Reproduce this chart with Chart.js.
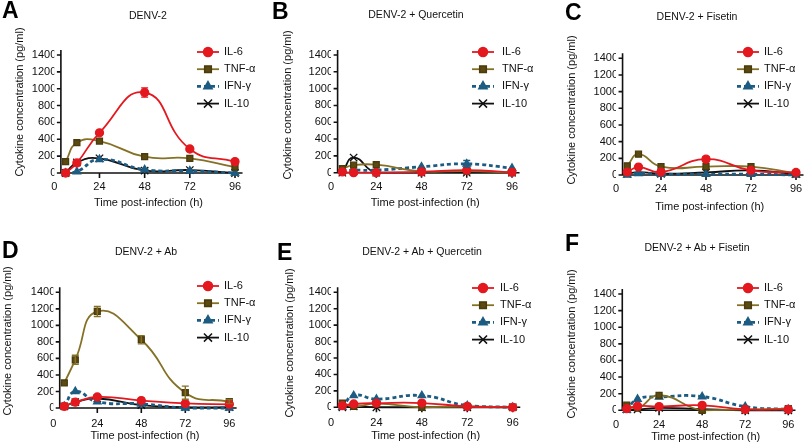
<!DOCTYPE html>
<html>
<head>
<meta charset="utf-8">
<script src="https://cdn.jsdelivr.net/npm/chart.js@4.4.0/dist/chart.umd.min.js"></script>
<style>
  body { margin: 0; background: #fff; font-family: "Liberation Sans", Arial, sans-serif; }
  #root { position: relative; width: 810px; height: 446px; overflow: hidden; }
  .panel { position: absolute; width: 270px; height: 223px; }
  .letter { position: absolute; font-weight: bold; font-size: 23px; line-height: 1; color: #000; }
  .title { position: absolute; font-size: 10.5px; white-space: nowrap; transform: translate(-50%, -50%); color: #111; }
</style>
</head>
<body>
<div id="root"></div>
<script>
const hours = [6, 12, 24, 48, 72, 96];
const xTicks = [0, 24, 48, 72, 96];
const yTicks = [0, 200, 400, 600, 800, 1000, 1200, 1400];
const seriesNames = ["IL-6", "TNF-α", "IFN-γ", "IL-10"];
const panelLetters = ["A", "B", "C", "D", "E", "F"];
const panelTitles = ["DENV-2", "DENV-2 + Quercetin", "DENV-2 + Fisetin",
  "DENV-2 + Ab", "DENV-2 + Ab + Quercetin", "DENV-2 + Ab + Fisetin"];
const yTitle = "Cytokine concentration (pg/ml)";
const xTitle = "Time post-infection (h)";

// A - DENV-2
const il6A = [0, 120, 477, 955, 285, 135];
const tnfA = [134, 359, 379, 193, 174, 70];
const ifnA = [0, 16, 162, 40, 25, 0];
const il10A = [0, 125, 174, 28, 35, 0];
const il6ErrA = [0, 0, 0, 55, 20, 15];
// B - DENV-2 + Quercetin
const il6B = [10, 0, 0, 10, 30, 5];
const tnfB = [50, 90, 95, 15, 20, 0];
const ifnB = [25, 30, 30, 70, 105, 55];
const il10B = [0, 180, 0, 0, 0, 0];
const ifnErrB = [0, 0, 0, 0, 40, 0];
// C - DENV-2 + Fisetin
const il6C = [35, 95, 35, 190, 55, 30];
const tnfC = [110, 250, 100, 100, 100, 20];
const ifnC = [0, 20, 10, 10, 10, 0];
const il10C = [15, 35, 15, 30, 55, 10];
const il6ErrC = [0, 0, 0, 30, 0, 0];
// D - DENV-2 + Ab
const il6D = [20, 70, 133, 90, 55, 45];
const tnfD = [303, 583, 1168, 826, 185, 78];
const ifnD = [20, 200, 75, 50, 0, 0];
const il10D = [20, 70, 115, 35, 10, 10];
const tnfErrD = [0, 55, 60, 50, 80, 25];
const il6ErrD = [0, 0, 25, 0, 0, 0];
// E - DENV-2 + Ab + Quercetin
const il6E = [20, 40, 50, 52, 10, 0];
const tnfE = [52, 10, 45, 0, 10, 0];
const ifnE = [0, 143, 100, 143, 20, 0];
const il10E = [0, 10, 0, 0, 0, 0];
// F - DENV-2 + Ab + Fisetin
const il6F = [20, 50, 45, 60, 10, 10];
const tnfF = [62, 25, 181, 0, 10, 20];
const ifnF = [0, 135, 160, 165, 45, 10];
const il10F = [10, 10, 30, 15, 0, 0];

const panelSeries = [
  [il6A, tnfA, ifnA, il10A],
  [il6B, tnfB, ifnB, il10B],
  [il6C, tnfC, ifnC, il10C],
  [il6D, tnfD, ifnD, il10D],
  [il6E, tnfE, ifnE, il10E],
  [il6F, tnfF, ifnF, il10F]
];
const panelErrors = [
  [il6ErrA, null, null, null],
  [null, null, ifnErrB, null],
  [il6ErrC, null, null, null],
  [il6ErrD, tnfErrD, null, null],
  [null, null, null, null],
  [null, null, null, null]
];

// layout of each panel (panel-relative pixels)
const frames = [
  { left: 0,   top: 0,   x0: 54.3, x96: 235,   y0: 173,   y1400: 55,   yt: [20, 102], xty: 203, xtk: 14,   letter: [2, -1],  title: [148, 15], legend: [197, 224, 52] },
  { left: 270, top: 0,   x0: 61,   x96: 242,   y0: 172.7, y1400: 55,   yt: [18, 105], xty: 203, xtk: 14,   letter: [2, 0],   title: [146, 14], legend: [202, 232, 52] },
  { left: 540, top: 0,   x0: 76,   x96: 259.3, y0: 175,   y1400: 58.3, yt: [32, 110], xty: 207, xtk: 14,   letter: [25, 1],  title: [157, 16], legend: [197, 224, 52] },
  { left: 0,   top: 223, x0: 53.3, x96: 229.3, y0: 185,   y1400: 69.3, yt: [8, 118],  xty: 213, xtk: 15.5, letter: [2, 16],  title: [146, 28], legend: [197, 224, 63] },
  { left: 270, top: 223, x0: 61,   x96: 242.7, y0: 184.3, y1400: 69.3, yt: [20, 120], xty: 213, xtk: 15.5, letter: [7, 18],  title: [152, 28], legend: [202, 230, 65] },
  { left: 540, top: 223, x0: 76,   x96: 248.3, y0: 187.3, y1400: 71,   yt: [32, 121], xty: 214, xtk: 15,   letter: [25, 9],  title: [157, 24], legend: [197, 224, 65] }
];

const styles = [
  { borderColor: "#e3191f", pointBackgroundColor: "#e3191f", pointBorderColor: "#e3191f", pointStyle: "circle", pointRadius: 4, borderWidth: 1.8 },
  { borderColor: "#857126", pointBackgroundColor: "#5b4912", pointBorderColor: "#4a3b0c", pointStyle: "rect", pointRadius: 4.2, borderWidth: 1.8 },
  { borderColor: "#1d5c82", pointBackgroundColor: "#1d5c82", pointBorderColor: "#1d5c82", pointStyle: "triangle", pointRadius: 4.3, borderWidth: 2.8, borderDash: [4, 3] },
  { borderColor: "#111111", pointBackgroundColor: "#111111", pointBorderColor: "#111111", pointStyle: "crossRot", pointRadius: 5.2, borderWidth: 1.8 }
];

const FONT = '"Liberation Sans", Arial, sans-serif';
Chart.defaults.font.family = FONT;
Chart.defaults.font.size = 11;
Chart.defaults.color = "#111";

const prismPlugin = {
  id: "prism",
  beforeDatasetsDraw(chart, args, opts) {
    const { ctx, scales: { x, y } } = chart;
    const ax = x.getPixelForValue(3.5);
    const ay = y.getPixelForValue(0);
    ctx.save();
    ctx.strokeStyle = "#111";
    ctx.lineWidth = 1.6;
    ctx.beginPath();
    ctx.moveTo(ax, y.top);
    ctx.lineTo(ax, ay);
    ctx.lineTo(x.right, ay);
    yTicks.forEach((v) => {
      const py = y.getPixelForValue(v);
      ctx.moveTo(ax - 4, py);
      ctx.lineTo(ax, py);
    });
    xTicks.slice(1).forEach((v) => {
      const px = x.getPixelForValue(v);
      ctx.moveTo(px, ay);
      ctx.lineTo(px, ay + 5);
    });
    ctx.stroke();
    // y axis title
    ctx.translate(opts.ytitle[0], opts.ytitle[1]);
    ctx.rotate(-Math.PI / 2);
    ctx.fillStyle = "#111";
    ctx.font = "11px " + FONT;
    ctx.textAlign = "center";
    ctx.textBaseline = "middle";
    ctx.fillText(yTitle, 0, 0);
    ctx.restore();
  },
  afterDatasetsDraw(chart) {
    const { ctx, scales: { y } } = chart;
    chart.data.datasets.forEach((ds, i) => {
      if (!ds.errors) return;
      const meta = chart.getDatasetMeta(i);
      ctx.save();
      ctx.strokeStyle = ds.borderColor;
      ctx.lineWidth = 1.4;
      ds.errors.forEach((e, j) => {
        if (!e) return;
        const p = meta.data[j];
        const v = ds.data[j].y;
        const t = y.getPixelForValue(v + e);
        const b = y.getPixelForValue(Math.max(0, v - e));
        ctx.beginPath();
        ctx.moveTo(p.x, t); ctx.lineTo(p.x, b);
        ctx.moveTo(p.x - 3.5, t); ctx.lineTo(p.x + 3.5, t);
        ctx.moveTo(p.x - 3.5, b); ctx.lineTo(p.x + 3.5, b);
        ctx.stroke();
      });
      ctx.restore();
    });
  },
  afterDraw(chart, args, opts) {
    const { ctx } = chart;
    const [lx, tx, ly] = opts.legend;
    chart.data.datasets.forEach((ds, i) => {
      const yy = ly + i * 17.2;
      ctx.save();
      ctx.strokeStyle = ds.borderColor;
      ctx.lineWidth = ds.borderWidth;
      ctx.setLineDash(ds.borderDash || []);
      ctx.beginPath();
      ctx.moveTo(lx, yy);
      ctx.lineTo(lx + 22, yy);
      ctx.stroke();
      ctx.setLineDash([]);
      ctx.fillStyle = ds.pointBackgroundColor;
      ctx.strokeStyle = ds.pointBorderColor;
      ctx.lineWidth = 1.5;
      Chart.helpers.drawPoint(ctx, { pointStyle: ds.pointStyle, radius: ds.pointRadius + 0.5, rotation: 0, borderWidth: 1.5 }, lx + 11, yy);
      ctx.fillStyle = "#111";
      ctx.font = "11px " + FONT;
      ctx.textBaseline = "middle";
      ctx.fillText(ds.label, tx, yy);
      ctx.restore();
    });
  }
};

const root = document.getElementById("root");

frames.forEach((f, p) => {
  const panel = document.createElement("div");
  panel.className = "panel";
  panel.style.left = f.left + "px";
  panel.style.top = f.top + "px";
  const canvas = document.createElement("canvas");
  canvas.width = 270;
  canvas.height = 223;
  panel.appendChild(canvas);
  const letter = document.createElement("div");
  letter.className = "letter";
  letter.style.left = f.letter[0] + "px";
  letter.style.top = f.letter[1] + "px";
  letter.textContent = panelLetters[p];
  panel.appendChild(letter);
  const title = document.createElement("div");
  title.className = "title";
  title.style.left = f.title[0] + "px";
  title.style.top = f.title[1] + "px";
  title.textContent = panelTitles[p];
  panel.appendChild(title);
  root.appendChild(panel);

  const perH = (f.x96 - f.x0) / 96;
  const perV = (f.y0 - f.y1400) / 1400;
  const areaRight = f.x0 + 100 * perH;
  const areaTop = f.y0 - 1460 * perV;
  const padL = 2;
  const xBottom = f.xty + 6.6;

  const datasets = seriesNames.map((name, s) => Object.assign({
    label: name,
    data: hours.map((h, i) => ({ x: h, y: panelSeries[p][s][i] })),
    errors: panelErrors[p][s],
    tension: 0.5,
    pointBorderWidth: 1.3,
    clip: false
  }, styles[s]));

  new Chart(canvas, {
    type: "line",
    data: { datasets: datasets },
    options: {
      responsive: false,
      animation: false,
      layout: { padding: { left: padL, right: 270 - areaRight, top: areaTop, bottom: 223 - xBottom } },
      plugins: {
        legend: { display: false },
        tooltip: { enabled: false },
        prism: { legend: f.legend, ytitle: f.yt }
      },
      scales: {
        x: {
          type: "linear", min: 0, max: 100,
          grid: { display: false, drawTicks: false },
          border: { display: false },
          afterBuildTicks: (sc) => { sc.ticks = xTicks.map((v) => ({ value: v })); },
          afterFit: (sc) => { sc.height = xBottom - f.y0; },
          ticks: { autoSkip: false, maxRotation: 0, padding: f.xtk - 6.6, color: "#111", callback: (v) => String(v) },
          title: { display: true, text: xTitle, padding: 0, color: "#111", font: { size: 11 } }
        },
        y: {
          min: 0, max: 1460,
          grid: { display: false, drawTicks: false },
          border: { display: false },
          afterBuildTicks: (sc) => { sc.ticks = yTicks.map((v) => ({ value: v })); },
          afterFit: (sc) => { sc.width = f.x0 - padL; },
          ticks: { autoSkip: false, padding: -2, color: "#111", callback: (v) => String(v) },
          title: { display: false }
        }
      }
    },
    plugins: [prismPlugin]
  });
});
</script>
</body>
</html>
